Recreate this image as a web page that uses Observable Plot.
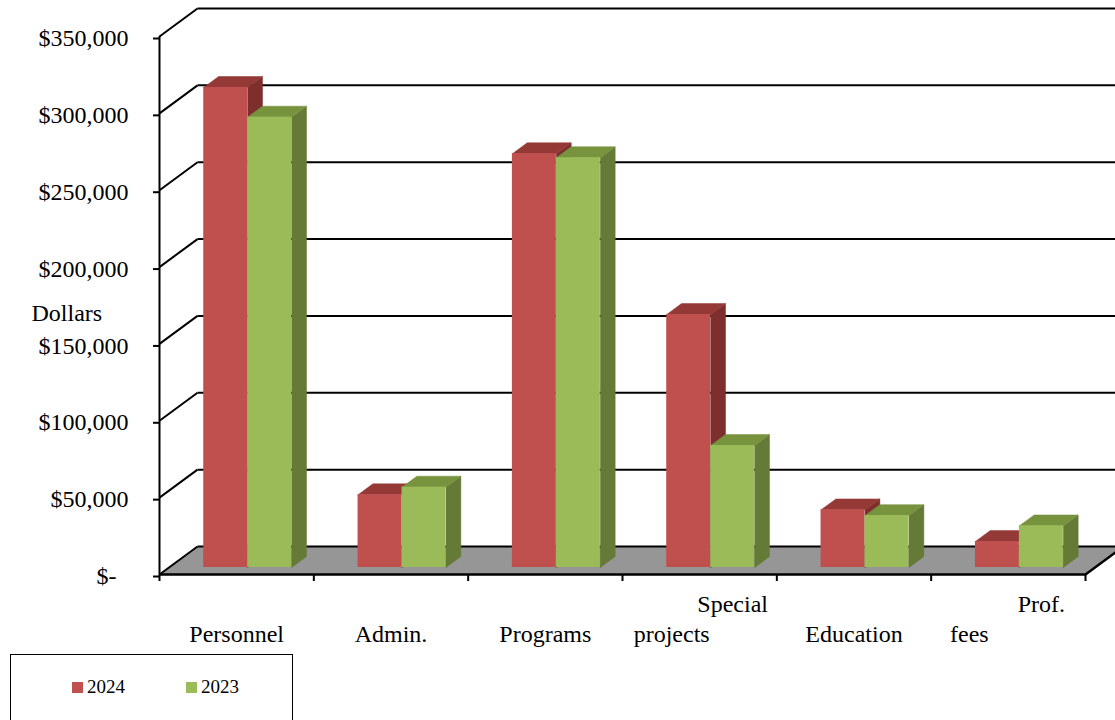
<!DOCTYPE html>
<html>
<head>
<meta charset="utf-8">
<script src="https://cdn.jsdelivr.net/npm/d3@7"></script>
<script src="https://cdn.jsdelivr.net/npm/@observablehq/plot@0.6"></script>
<style>
  html, body { margin: 0; padding: 0; background: #fff; }
  #wrap { position: relative; width: 1115px; height: 720px; overflow: hidden; font-family: "Liberation Serif", serif; }
  #chart { position: absolute; left: 0; top: 0; }
  #legend { position: absolute; left: 10px; top: 654px; }
</style>
</head>
<body>
<div id="wrap">
  <div id="chart"></div>
  <svg id="legend" width="284" height="66"></svg>
</div>
<script>
// ---- data ----
const categories = ["Personnel", "Admin.", "Programs", "Special projects", "Education", "Prof. fees"];
const seriesNames = ["2024", "2023"];
const values2024 = [312300, 47300, 269200, 164600, 37500, 16900];
const values2023 = [293000, 52300, 266600, 79400, 33800, 27100];
const yTicks = [0, 50000, 100000, 150000, 200000, 250000, 300000, 350000];
const yTickLabels = ["$-", "$50,000", "$100,000", "$150,000", "$200,000", "$250,000", "$300,000", "$350,000"];
const axisTitle = "Dollars";

// ---- layout / style ----
const W = 1115, H = 654;
const mL = 159, mR = 30, mT = 36, mB = 80;
const pxPerCat = (W - mL - mR) / categories.length;
const pxPerDollar = (H - mT - mB) / 350000;
const EX = 38 / pxPerCat;          // depth unit, x (category units)
const EY = 28 / pxPerDollar;       // depth unit, y (dollars)
const dFront = 0.25, dBack = 0.64;
const barStart = 0.225, barW = 0.285;
const colors = [
  {front: "#C0504D", top: "#953937", side: "#7C2F2D"},
  {front: "#9BBB59", top: "#77933E", side: "#647A36"}
];
const font = "Liberation Serif";

const seriesValues = [values2024, values2023];
const aF = dFront * EX, bF = dFront * EY, aB = dBack * EX, bB = dBack * EY;

const fronts = [[], []], tops = [[], []], sides = [[], []];
seriesValues.forEach((vals, s) => {
  vals.forEach((v, i) => {
    const x0 = i + barStart + s * barW, x1 = x0 + barW;
    const id = `${s}-${i}`;
    fronts[s].push({x1: x0 + aF, x2: x1 + aF, y1: bF, y2: v + bF});
    [[x0 + aF, v + bF], [x1 + aF, v + bF], [x1 + aB, v + bB], [x0 + aB, v + bB], [x0 + aF, v + bF]]
      .forEach(([x, y]) => tops[s].push({id, x, y}));
    [[x1 + aF, bF], [x1 + aF, v + bF], [x1 + aB, v + bB], [x1 + aB, bB], [x1 + aF, bF]]
      .forEach(([x, y]) => sides[s].push({id, x, y}));
  });
});

const n = categories.length;
const floor = [[0, 0], [n, 0], [n + EX, EY], [EX, EY], [0, 0]].map(([x, y]) => ({x, y}));

// category labels (Excel splits two-word labels over two rows)
const lowerDx = {"Special projects": -28, "Prof. fees": -39};
const labelsBottom = [], labelsTop = [];
categories.forEach((c, i) => {
  const words = c.split(" ");
  if (words.length === 1) labelsBottom.push({x: i + 0.5, text: c, dx: 0});
  else {
    labelsTop.push({x: i + 0.5, text: words[0]});
    labelsBottom.push({x: i + 0.5, text: words.slice(1).join(" "), dx: lowerDx[c] ?? 0});
  }
});

const tickLabel = (d) => {
  const l = yTickLabels[yTicks.indexOf(d)];
  return d === 0 ? l + "\u2007" : l;
};

const marks = [
  // floor
  Plot.line(floor, {x: "x", y: "y", fill: "#969696", stroke: "none"}),
  // side wall diagonals and back wall gridlines
  Plot.link(yTicks, {x1: 0, y1: d => d, x2: EX, y2: d => d + EY, stroke: "#000", strokeWidth: 2}),
  Plot.link(yTicks, {x1: EX, y1: d => d + EY, x2: n + EX + 1, y2: d => d + EY, stroke: "#000", strokeWidth: 2}),
  // floor front & right edges
  Plot.link([0], {x1: 0, y1: 0, x2: n, y2: 0, stroke: "#000", strokeWidth: 2.5}),
  Plot.link([0], {x1: n, y1: 0, x2: n + EX, y2: EY, stroke: "#000", strokeWidth: 2.5}),
  // vertical axis line
  Plot.ruleX([0], {y1: 0, y2: 350000, stroke: "#000", strokeWidth: 2}),
  Plot.axisY({ticks: yTicks, tickSize: 6, tickPadding: 25, tickFormat: tickLabel,
    fontSize: 24, fontFamily: font, fill: "#000", stroke: "#000", strokeWidth: 2, dy: 2}),
  Plot.axisX({ticks: d3.range(n + 1), tickSize: 7, tickFormat: () => "", stroke: "#000", strokeWidth: 2}),
];
for (let s = 0; s < 2; s++) {
  marks.push(
    Plot.line(sides[s], {x: "x", y: "y", z: "id", fill: colors[s].side, stroke: colors[s].side, strokeWidth: 0.5}),
    Plot.line(tops[s], {x: "x", y: "y", z: "id", fill: colors[s].top, stroke: colors[s].top, strokeWidth: 0.5}),
    Plot.rect(fronts[s], {x1: "x1", x2: "x2", y1: "y1", y2: "y2", fill: colors[s].front})
  );
}
labelsBottom.forEach(l => marks.push(
  Plot.text([l], {x: "x", y: 0, text: "text", dy: 60, dx: l.dx, fontSize: 24, fontFamily: font, fill: "#000"})
));
marks.push(
  Plot.text(labelsTop, {x: "x", y: 0, text: "text", dy: 30, dx: 33, fontSize: 24, fontFamily: font, fill: "#000"}),
  Plot.text([axisTitle], {frameAnchor: "top-left", text: d => d, textAnchor: "start", dx: -128, dy: 267,
    fontSize: 24, fontFamily: font, fill: "#000"})
);

const chart = Plot.plot({
  width: W, height: H,
  marginLeft: mL, marginRight: mR, marginTop: mT, marginBottom: mB,
  style: {fontFamily: font, overflow: "visible", background: "transparent"},
  x: {type: "linear", domain: [0, n], axis: null},
  y: {type: "linear", domain: [0, 350000], axis: null},
  marks
});
document.getElementById("chart").appendChild(chart);

// legend
const lg = d3.select("#legend");
lg.append("rect").attr("x", 0.5).attr("y", 0.5).attr("width", 282).attr("height", 90)
  .attr("fill", "#fff").attr("stroke", "#000").attr("stroke-width", 1);
seriesNames.forEach((name, s) => {
  const x0 = 62 + s * 114;
  lg.append("rect").attr("x", x0).attr("y", 28).attr("width", 11).attr("height", 11).attr("fill", colors[s].front);
  lg.append("text").attr("x", x0 + 15).attr("y", 39).attr("font-family", font).attr("font-size", 19)
    .attr("fill", "#000").text(name);
});
</script>
</body>
</html>
